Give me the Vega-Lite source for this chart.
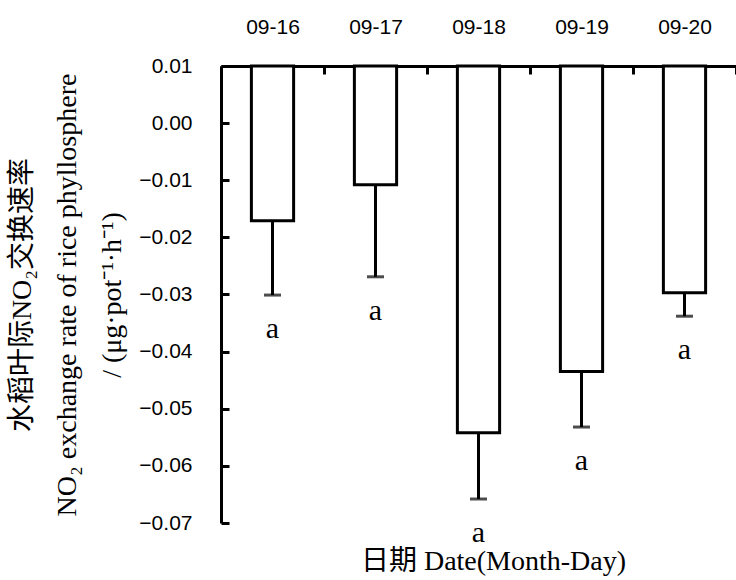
{
  "$schema": "https://vega.github.io/schema/vega-lite/v6.json",
  "width": 515,
  "height": 457,
  "autosize": {"type": "none"},
  "padding": {"left": 221, "top": 66, "right": 0, "bottom": 57},
  "background": "white",
  "title": {
    "text": "日期 Date(Month-Day)",
    "orient": "bottom",
    "anchor": "middle",
    "font": "Liberation Serif, Noto Sans CJK SC",
    "fontSize": 28,
    "fontWeight": "normal",
    "color": "black",
    "offset": 0,
    "dx": 15
  },
  "data": {
    "values": [
      {"date": "09-16", "value": -0.0171, "err": -0.0301, "letter": "a"},
      {"date": "09-17", "value": -0.0108, "err": -0.0269, "letter": "a"},
      {"date": "09-18", "value": -0.0542, "err": -0.0658, "letter": "a"},
      {"date": "09-19", "value": -0.0435, "err": -0.0532, "letter": "a"},
      {"date": "09-20", "value": -0.0297, "err": -0.0338, "letter": "a"}
    ]
  },
  "encoding": {
    "x": {
      "field": "date",
      "type": "nominal",
      "sort": null,
      "scale": {"paddingInner": 0, "paddingOuter": 0},
      "axis": {
        "orient": "top",
        "title": null,
        "labelAngle": 0,
        "labelFont": "Liberation Sans",
        "labelFontSize": 21,
        "labelColor": "black",
        "labelPadding": 37,
        "tickBand": "extent",
        "tickSize": -8,
        "tickWidth": 3,
        "tickColor": "black",
        "domainColor": "black",
        "domainWidth": 3
      }
    }
  },
  "layer": [
    {
      "mark": {"type": "bar", "fill": "white", "stroke": "black", "strokeWidth": 3, "width": {"band": 0.41}},
      "encoding": {
        "y": {
          "field": "value",
          "type": "quantitative",
          "scale": {"domain": [-0.07, 0.01], "nice": false, "zero": false},
          "axis": {
            "title": ["水稻叶际NO₂交换速率", "NO₂ exchange rate of rice phyllosphere", "/ (μg·pot⁻¹·h⁻¹)"],
            "titleFont": "Liberation Serif, Noto Sans CJK SC",
            "titleFontSize": 28,
            "titleFontWeight": "normal",
            "titleColor": "black",
            "titleLineHeight": 45,
            "titleAngle": -90,
            "titleAlign": "center",
            "titleBaseline": "middle",
            "titleX": -199,
            "titleY": 228.5,
            "values": [0.01, 0, -0.01, -0.02, -0.03, -0.04, -0.05, -0.06, -0.07],
            "format": ".2f",
            "labelFont": "Liberation Sans",
            "labelFontSize": 21,
            "labelColor": "black",
            "labelPadding": 37,
            "tickSize": -8,
            "tickWidth": 3,
            "tickColor": "black",
            "domainColor": "black",
            "domainWidth": 3,
            "grid": false
          }
        },
        "y2": {"datum": 0.01}
      }
    },
    {
      "mark": {"type": "rule", "stroke": "black", "strokeWidth": 3},
      "encoding": {
        "y": {"field": "value", "type": "quantitative"},
        "y2": {"field": "err"}
      }
    },
    {
      "mark": {"type": "tick", "color": "black", "size": 17, "thickness": 3, "orient": "horizontal"},
      "encoding": {
        "y": {"field": "err", "type": "quantitative"}
      }
    },
    {
      "mark": {"type": "text", "font": "Liberation Serif", "fontSize": 30, "color": "black", "baseline": "middle", "dy": 34, "clip": false},
      "encoding": {
        "y": {"field": "err", "type": "quantitative"},
        "text": {"field": "letter"}
      }
    }
  ],
  "config": {
    "view": {"stroke": null},
    "axis": {"ticks": true}
  }
}
